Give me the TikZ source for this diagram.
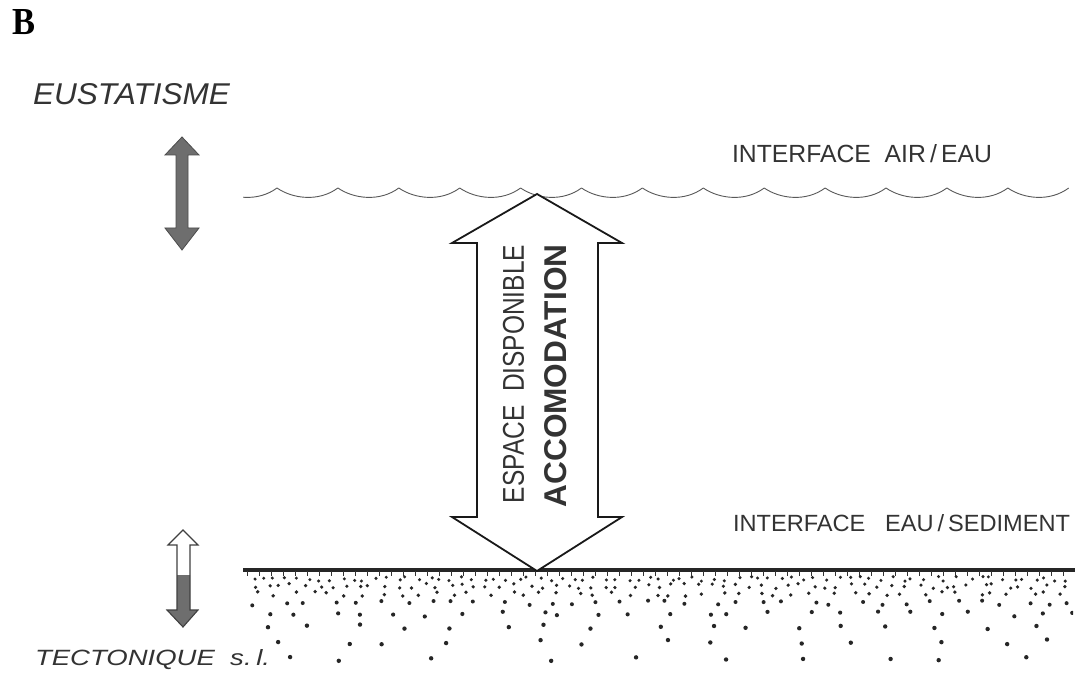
\documentclass[tikz,border=0pt]{standalone}
\usepackage{fontspec}
\setmainfont{Liberation Sans}
\newfontfamily\serifbold{Liberation Serif}
\newcommand{\mylab}[3]{\resizebox{#1pt}{#2pt}{#3}}
\definecolor{txt}{HTML}{333333}
\definecolor{arrowgray}{HTML}{6E6E6E}
\tikzset{
  lab/.style={inner sep=0pt, outer sep=0pt, text=txt},
  wave/.style={draw=black!65, line width=0.9pt},
  bigarrow/.style={draw=black!90, line width=1.8pt, line join=miter, fill=white},
  grayarrow/.style={draw=black!70, line width=0.8pt, fill=arrowgray},
  dot/.style={fill=black!85}
}
\begin{document}
\begin{tikzpicture}[x=1pt,y=-1pt]
\useasboundingbox (0,0) rectangle (1075,684);
\fill[white] (0,0) rectangle (1075,684);

% panel letter
\node[inner sep=0pt, anchor=south west] (B) at (12,35) {\mylab{23}{25}{\serifbold\bfseries B}};

% labels
\node[lab, anchor=south west] (eus) at (33,105) {\mylab{197}{21}{\itshape EUSTATISME}};
\node[lab, anchor=south west] (tec) at (35,670) {\mylab{235}{16}{\itshape TECTONIQUE\ \ s.\,l.}};
\node[lab, anchor=south west] (air) at (732,163) {\mylab{260}{18}{INTERFACE\ \ AIR\,/\,EAU}};
\node[lab, anchor=south west] (sed) at (733,532) {\mylab{337}{17}{INTERFACE\ \ \ EAU\,/\,SEDIMENT}};

% water surface (scalloped)
\begin{scope}
\clip (243,150) rectangle (1069,220);
\foreach \k in {-1,...,12} {
  \pgfmathsetmacro{\cx}{277+60.9*\k}
  \draw[wave] (\cx,188) .. controls (\cx+16,199) and (\cx+42,202) .. (\cx+60.9,188);
}
\end{scope}

% sediment surface
\draw[line width=3.2pt, black!85] (243,570) -- (1075,570);
\foreach \i in {0,...,69} {
  \draw[line width=0.9pt, black!80] (247+12*\i,571) -- (247+12*\i,576);
}
\begin{scope}
\clip (243,573) rectangle (1073,684);
\pgfmathsetseed{11}
\foreach \yy/\sp/\rr in {579/11/1.7, 586/13/1.8, 594/18/1.9, 603/24/2, 614/34/2.1, 627/48/2.2, 642/65/2.2, 659/85/2.2} {
  \pgfmathtruncatemacro{\n}{830/\sp}
  \foreach \i in {0,...,\n} {
    \pgfmathsetmacro{\xx}{250 + \i*\sp + rnd*\sp*0.7}
    \pgfmathsetmacro{\yj}{\yy + rand*2.5}
    \fill[dot] (\xx,\yj) circle (\rr pt);
  }
}
\end{scope}

% accommodation arrow
\path[bigarrow] (537,194) -- (622,243) -- (598,243) -- (598,517) -- (622,517)
  -- (537,571) -- (452,517) -- (477,517) -- (477,243) -- (452,243) -- cycle;
\node[lab, rotate=90] (esp) at (513.5,374) {\mylab{258}{21}{ESPACE\ \ DISPONIBLE}};
\node[lab, rotate=90] (acc) at (556,376) {\mylab{263}{22}{\bfseries ACCOMODATION}};

% eustatism arrow
\path[grayarrow] (182,137) -- (199,155) -- (188,155) -- (188,228) -- (199,228)
  -- (182,250) -- (165,228) -- (176,228) -- (176,155) -- (165,155) -- cycle;

% tectonics arrow
\fill[white] (183,530) -- (198,545) -- (190,545) -- (190,610) -- (198,610)
  -- (183,627) -- (167,610) -- (177,610) -- (177,545) -- (168,545) -- cycle;
\begin{scope}
\clip (150,575) rectangle (210,640);
\fill[arrowgray] (183,530) -- (198,545) -- (190,545) -- (190,610) -- (198,610)
  -- (183,627) -- (167,610) -- (177,610) -- (177,545) -- (168,545) -- cycle;
\end{scope}
\draw[black!75, line width=1.1pt, line join=miter] (183,530) -- (198,545) -- (190,545) -- (190,610) -- (198,610)
  -- (183,627) -- (167,610) -- (177,610) -- (177,545) -- (168,545) -- cycle;
\end{tikzpicture}
\end{document}
